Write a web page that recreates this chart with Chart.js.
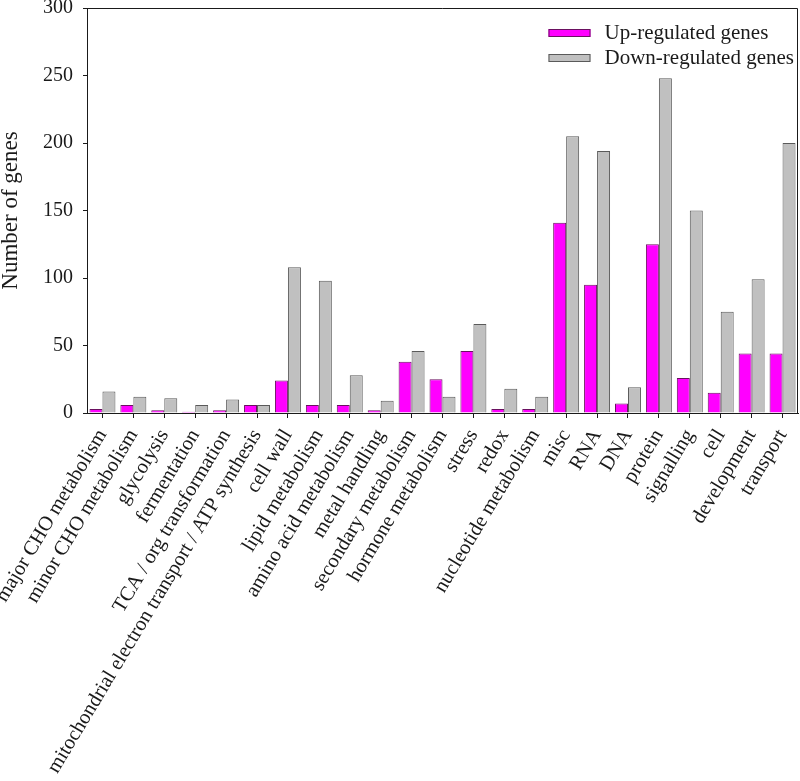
<!DOCTYPE html>
<html>
<head>
<meta charset="utf-8">
<script src="https://cdn.jsdelivr.net/npm/chart.js@4/dist/chart.umd.min.js"></script>
<style>
  html, body { margin: 0; padding: 0; background: #fff; }
  #wrap { width: 800px; height: 781px; }
</style>
</head>
<body>
<div id="wrap"><canvas id="chart" width="800" height="781"></canvas></div>
<script>
const categories = [
  'major CHO metabolism', 'minor CHO metabolism', 'glycolysis', 'fermentation',
  'TCA / org transformation', 'mitochondrial electron transport / ATP synthesis',
  'cell wall', 'lipid metabolism', 'amino acid metabolism', 'metal handling',
  'secondary metabolism', 'hormone metabolism', 'stress', 'redox',
  'nucleotide metabolism', 'misc', 'RNA', 'DNA', 'protein', 'signalling',
  'cell', 'development', 'transport'
];
const upRegulated   = [3, 6, 2, 1, 2, 6, 24, 6, 6, 2, 38, 25, 46, 3, 3, 141, 95, 7, 125, 26, 15, 44, 44];
const downRegulated = [16, 12, 11, 6, 10, 6, 108, 98, 28, 9, 46, 12, 66, 18, 12, 205, 194, 19, 248, 150, 75, 99, 200];
const yTicks = [0, 50, 100, 150, 200, 250, 300];

const serif = '"Liberation Serif", "Times New Roman", serif';
const ink = '#1a1a1a';

// legend drawn inside the plot, top right, plus the box frame
const framePlugin = {
  id: 'frame',
  afterDatasetsDraw(chart) {
    const { ctx, chartArea: a } = chart;
    ctx.save();
    ctx.strokeStyle = ink;
    ctx.lineWidth = 1;
    ctx.beginPath();
    ctx.moveTo(a.left, a.top + 0.5);
    ctx.lineTo(a.right - 0.5, a.top + 0.5);
    ctx.lineTo(a.right - 0.5, a.bottom);
    ctx.stroke();

    ctx.font = '21px ' + serif;
    ctx.textBaseline = 'middle';
    ctx.textAlign = 'left';
    const ds = chart.data.datasets;
    const w = Math.max(...ds.map(d => ctx.measureText(d.label).width));
    const textX = a.right - 4 - w;
    ds.forEach((d, i) => {
      const y = a.top + 25 + i * 25;
      ctx.fillStyle = d.backgroundColor;
      ctx.strokeStyle = d.borderColor;
      ctx.fillRect(textX - 56, y - 4, 42, 8);
      ctx.strokeRect(textX - 55.5, y - 3.5, 41, 7);
      ctx.fillStyle = ink;
      ctx.fillText(d.label, textX, y);
    });
    ctx.restore();
  }
};

new Chart(document.getElementById('chart'), {
  type: 'bar',
  data: {
    labels: categories,
    datasets: [
      { label: 'Up-regulated genes', data: upRegulated, backgroundColor: '#ff00ff', borderColor: '#6a1060', borderWidth: 1 },
      { label: 'Down-regulated genes', data: downRegulated, backgroundColor: '#c0c0c0', borderColor: '#5a5a5a', borderWidth: 1 },
    ],
  },
  options: {
    responsive: false,
    animation: false,
    layout: { padding: { top: 8, right: 2, left: 0, bottom: 0 } },
    categoryPercentage: 0.84,
    barPercentage: 1.0,
    plugins: { legend: { display: false }, tooltip: { enabled: false } },
    scales: {
      x: {
        grid: { offset: false, drawOnChartArea: false, tickLength: 5, color: ink },
        border: { color: ink, width: 1 },
        ticks: { color: ink, font: { family: serif, size: 20.5 }, minRotation: 59, maxRotation: 59, autoSkip: false, padding: 7 },
        afterFit: s => { s.height = 368; s.paddingLeft = 0; s.paddingRight = 0; },
      },
      y: {
        min: 0, max: 300,
        afterBuildTicks: s => { s.ticks = yTicks.map(v => ({ value: v })); },
        grid: { drawOnChartArea: false, tickLength: 4, color: ink },
        border: { color: ink, width: 1 },
        ticks: { color: ink, font: { family: serif, size: 20 }, padding: 10 },
        title: { display: true, text: 'Number of genes', color: ink, font: { family: serif, size: 23, lineHeight: 1 }, padding: { top: -1, bottom: 0 } },
        afterFit: s => { s.width = 87; s.paddingTop = 0; s.paddingBottom = 0; },
      },
    },
  },
  plugins: [framePlugin],
});
</script>
</body>
</html>
